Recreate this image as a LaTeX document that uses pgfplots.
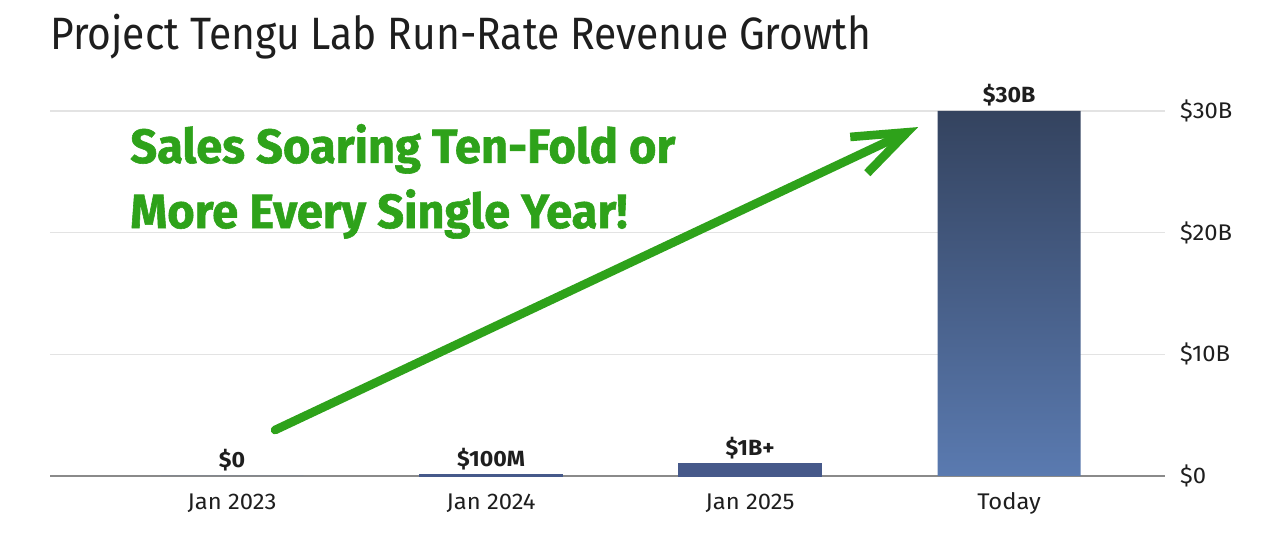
\documentclass[border=0pt]{standalone}
\usepackage{pgfplots}
\pgfplotsset{compat=1.18}
\usepackage{fontspec}
\setmainfont{Fira Sans}[FakeStretch=0.9]
\newfontfamily\lblfont{Fira Sans}[FakeStretch=1.05]
\newfontfamily\greenfont{Fira Sans}[FakeStretch=0.98, FakeBold=1.2]
\usetikzlibrary{arrows.meta}
\definecolor{bartop}{HTML}{34435F}
\definecolor{barbot}{HTML}{5A7AB0}
\definecolor{barsmall}{HTML}{46598A}
\definecolor{arrowgreen}{HTML}{2EA21A}
\definecolor{gridgray}{HTML}{E3E3E3}
\definecolor{axisgray}{HTML}{8A8A8A}
\definecolor{txt}{HTML}{1E1E1E}
\begin{document}
\begin{tikzpicture}
\begin{axis}[
  name=ax,
  scale only axis,
  width=836.25pt, height=273.75pt,
  xmin=-0.703, xmax=3.602,
  ymin=0, ymax=30,
  axis x line=bottom,
  axis y line=right,
  x axis line style={-, draw=axisgray, line width=1.5pt},
  y axis line style={draw=none},
  tick style={draw=none},
  xtick={0,1,2,3},
  xticklabels={Jan 2023, Jan 2024, Jan 2025, Today},
  ytick={0,10,20,30},
  yticklabels={\$0,\$10B,\$20B,\$30B},
  xticklabel style={anchor=base, yshift=-23pt, font=\lblfont\fontsize{17}{20}\selectfont, text=txt},
  yticklabel style={anchor=west, inner sep=0pt, xshift=9pt, font=\lblfont\fontsize{17}{20}\selectfont, text=txt},
  ymajorgrids, grid style={gridgray, line width=1pt},
  clip=false,
  /pgf/number format/assume math mode=true,
]
\addplot[ybar, bar width=107.25pt, draw=none, top color=bartop, bottom color=barbot]
  coordinates {(0,0) (3,30)};
\addplot[ybar, bar width=107.25pt, draw=barsmall, line width=0.6pt, fill=barsmall]
  coordinates {(1,0.1) (2,1)};
\addplot[draw=none, mark=none, nodes near coords, point meta=explicit symbolic,
  every node near coord/.append style={anchor=base, yshift=6pt, inner sep=0pt, text=txt, font=\lblfont\bfseries\fontsize{16.5}{18}\selectfont}]
  coordinates {(0,0) [{\$0}] (1,0.1) [{\$100M}] (2,1) [{\$1B+}] (3,30) [{\$30B}]};
\draw[arrowgreen, line width=6.5pt, line cap=round, -{Straight Barb[length=40pt, width=30pt]}]
  (axis cs:0.166,3.78) -- (axis cs:2.649,28.68);
\node[anchor=base west, inner sep=0pt, text=arrowgreen, font=\greenfont\bfseries\fontsize{36}{40}\selectfont] at (axis cs:-0.394,25.73) {Sales Soaring Ten-Fold or};
\node[anchor=base west, inner sep=0pt, text=arrowgreen, font=\greenfont\bfseries\fontsize{36}{40}\selectfont] at (axis cs:-0.394,20.38) {More Every Single Year!};
\node[anchor=base west, inner sep=0pt, text=txt, font=\fontsize{34}{40}\selectfont] at (rel axis cs:0,1) [yshift=46pt] {Project Tengu Lab Run-Rate Revenue Growth};
\end{axis}
\pgfresetboundingbox
\path ([xshift=-37.5pt, yshift=-44.25pt]ax.south west) rectangle ([xshift=76.5pt, yshift=83.25pt]ax.north east);
\end{tikzpicture}
\end{document}
